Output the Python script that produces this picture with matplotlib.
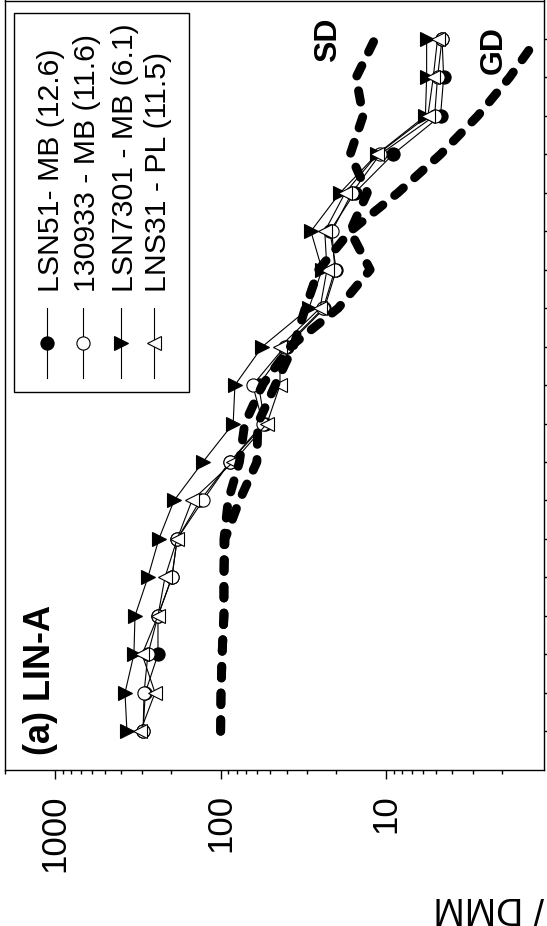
import numpy as np
import matplotlib.pyplot as plt
from matplotlib.lines import Line2D
from matplotlib.patches import Rectangle
from matplotlib.ticker import LogLocator, NullFormatter

plt.rcParams['font.family'] = ['Liberation Sans', 'DejaVu Sans']

W, H = 547, 926

# element slot along the normalised pattern (0 = most incompatible)
positions = np.arange(19)

# sample / DMM
lsn51 = [294, 285, 239, 239, 197, 183, 133, 88, 54, 59, 40, 23.6, 20, 21.9, 15.5, 9.1, 4.7, 4.5, 4.6]
s130933 = [294, 290, 275, 239, 197, 183, 128, 88, 55.5, 64, 41, 24, 20.4, 21.3, 16.1, 10.9, 5.1, 4.9, 4.6]
lsn7301 = [368, 378, 334, 329, 275, 236, 191, 128, 84, 82, 56, 29.3, 24.4, 28.5, 19, 11.4, 5.8, 5.7, 5.7]
lns31 = [305, 249, 298, 239, 217, 183, 149, 84, 52.5, 43.8, 43.8, 25.1, 22.8, 23.5, 17.7, 11.3, 5.6, 5.2, 4.9]

# melting models
sd = [100, 99.5, 98, 95.5, 95.5, 95.5, 90, 77, 71.5, 56, 38, 19.5, 12.5, 16.5, 13, 16.5, 13.8, 15.2, 11.7]
gd = [100, 99.5, 98, 95.5, 95.5, 94, 77, 60.4, 59.6, 46.8, 36.4, 30.8, 25.6, 16.5, 8.5, 4.7, 2.8, 1.8, 1.23]

labels = ['LSN51- MB (12.6)', '130933 - MB (11.6)', 'LSN7301 - MB (6.1)', 'LNS31 - PL (11.5)']
series = [lsn51, s130933, lsn7301, lns31]
styles = [dict(marker='o', mfc='black'),
          dict(marker='o', mfc='white'),
          dict(marker='>', mfc='black'),
          dict(marker='<', mfc='white')]


def fx(x):
    return x / W


def fy(y):
    return 1 - y / H


fig = plt.figure(figsize=(W / 100, H / 100), dpi=100)
ax = fig.add_axes([fx(5.2), fy(769.7), (544.3 - 5.2) / W, (769.7 - 0.5) / H])

for vals, st in zip(series, styles):
    ax.plot(vals, positions, color='black', lw=0.8, ms=9.5, mec='black', mew=0.8, zorder=3, **st)

for model in (sd, gd):
    ax.plot(model, positions, color='black', lw=6.4, ls=(0, (1.3, 1.7)),
            dash_capstyle='round', solid_capstyle='round', zorder=4)

ax.set_xscale('log')
ax.set_xlim(2000, 1.11)
ax.set_ylim(-1, 19)

ax.set_xticks([1000, 100, 10])
ax.set_xticklabels(['1000', '100', '10'])
ax.xaxis.set_minor_locator(LogLocator(base=10, subs=np.arange(2, 10)))
ax.xaxis.set_minor_formatter(NullFormatter())
ax.tick_params(axis='x', which='major', direction='out', length=6.5, width=1,
               pad=11, labelsize=25, labelrotation=90)
ax.tick_params(axis='x', which='minor', direction='out', length=3.2, width=1)

ax.yaxis.tick_right()
ax.set_yticks(positions)
ax.tick_params(axis='y', direction='out', length=6, width=1, labelright=False)

for sp in ax.spines.values():
    sp.set_linewidth(1)

# rotated annotations
fig.text(fx(41), fy(755), '(a) LIN-A', rotation=90, ha='center', va='bottom',
         fontsize=26, fontweight='bold')
fig.text(fx(328), fy(62), 'SD', rotation=90, ha='center', va='bottom',
         fontsize=23, fontweight='bold')
fig.text(fx(494), fy(74), 'GD', rotation=90, ha='center', va='bottom',
         fontsize=23, fontweight='bold')
fig.text(fx(433), fy(907), '/ DMM', rotation=180, ha='left', va='center', fontsize=27)

# legend box drawn sideways
fig.patches.append(Rectangle((fx(14), fy(392)), (189 - 14) / W, (392 - 13) / H,
                             transform=fig.transFigure, fill=True, fc='white',
                             ec='black', lw=1, zorder=5))
cols = [46.7, 83.3, 121, 154.3]
for xc, lab, st in zip(cols, labels, styles):
    fig.lines.append(Line2D([fx(xc), fx(xc)], [fy(378), fy(308)], transform=fig.transFigure,
                            color='black', lw=0.8, zorder=6))
    fig.lines.append(Line2D([fx(xc)], [fy(343)], transform=fig.transFigure, ls='none',
                            ms=9.5, mec='black', mew=0.8, zorder=7, **st))
    fig.text(fx(xc + 4), fy(292), lab, rotation=90, ha='center', va='bottom',
             fontsize=21.8, zorder=8)

fig.savefig('out.png', dpi=100)
